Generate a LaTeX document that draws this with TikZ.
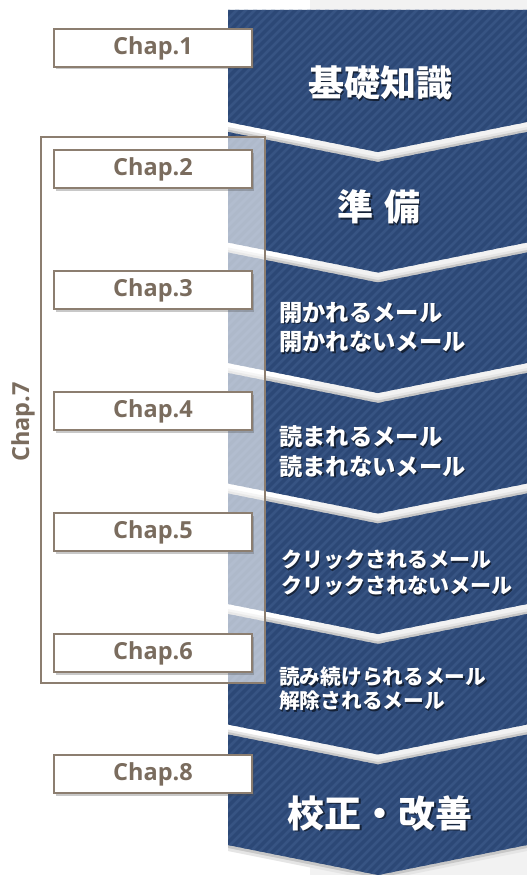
\documentclass[tikz,border=0pt]{standalone}
\usepackage{fontspec}
\setmainfont{Open Sans}
\newfontfamily\jp{Noto Sans CJK JP}
\usetikzlibrary{shadows}
\definecolor{bandblue}{RGB}{44,72,118}
\definecolor{stripeblue}{RGB}{55,84,131}
\definecolor{chapbrown}{RGB}{122,108,94}
\definecolor{chapborder}{RGB}{140,126,112}
\definecolor{rightgray}{RGB}{242,242,242}
\tikzset{
  stripe/.style={draw=stripeblue, line width=2.6pt},
  gapshadeA/.style={fill=black!10},
  gapshadeB/.style={fill=black!22},
  chapbox/.style={draw=chapborder, line width=1.5pt, fill=white,
    minimum width=198pt, minimum height=38pt, inner sep=0pt,
    text=chapbrown, font=\fontsize{23.5}{23.5}\selectfont\bfseries,
    drop shadow={shadow xshift=2pt, shadow yshift=-2.5pt, opacity=0.3, fill=black!70}},
  outerbox/.style={draw=chapborder, line width=1.2pt, fill=white, fill opacity=0.62,
    minimum width=224pt, minimum height=546pt, inner sep=0pt},
  chaplabel/.style={text=chapbrown, font=\fontsize{23.5}{23.5}\selectfont\bfseries, inner sep=0pt},
  jpw/.style={text=white, inner sep=0pt},
  jpsh/.style={text=black, opacity=0.55, inner sep=0pt},
  bigfont/.style={font=\jp\bfseries\fontsize{36}{40}\selectfont},
  midfont/.style={font=\jp\bfseries\fontsize{23.3}{29.5}\selectfont, align=left, anchor=west},
  smfont/.style={font=\jp\bfseries\fontsize{21}{26}\selectfont, align=left, anchor=west},
  xsfont/.style={font=\jp\bfseries\fontsize{20.7}{24}\selectfont, align=left, anchor=west},
  hugefont/.style={font=\jp\bfseries\fontsize{37}{40}\selectfont},
}
\begin{document}
\begin{tikzpicture}[x=1pt,y=-1pt]
\useasboundingbox (0,0) rectangle (527,875);
% background
\fill[white] (0,0) rectangle (527,875);
\fill[rightgray] (310,0) rectangle (527,875);
% band segments
\foreach \k in {0,...,6} {
  \pgfmathsetmacro\yb{122+120.5*\k}
  \pgfmathsetmacro\yt{\k==0 ? 10 : \yb-110.5}
  \pgfmathsetmacro\ytip{\k==0 ? 10 : \yb-80.5}
  \pgfmathsetmacro\ybtip{\yb+30}
  \ifnum\k>0
    \fill[gapshadeA] (228,\yt-5) -- (378,\ytip-5) -- (527,\yt-5) -- (527,\yb-5) -- (378,\ybtip-5) -- (228,\yb-5) -- cycle;
    \fill[gapshadeB] (228,\yt-2.5) -- (378,\ytip-2.5) -- (527,\yt-2.5) -- (527,\yb-2.5) -- (378,\ybtip-2.5) -- (228,\yb-2.5) -- cycle;
  \fi
  \ifnum\k=6
    \fill[gapshadeA] (228,\yt+6) -- (378,\ytip+6) -- (527,\yt+6) -- (527,\yb+6) -- (378,\ybtip+6) -- (228,\yb+6) -- cycle;
    \fill[gapshadeB] (228,\yt+3) -- (378,\ytip+3) -- (527,\yt+3) -- (527,\yb+3) -- (378,\ybtip+3) -- (228,\yb+3) -- cycle;
  \fi
  \begin{scope}
    \clip (228,\yt) -- (378,\ytip) -- (527,\yt) -- (527,\yb) -- (378,\ybtip) -- (228,\yb) -- cycle;
    \fill[bandblue] (220,\yt-5) rectangle (530,\ybtip+5);
    \foreach \c in {-700,-691,...,540} {
      \draw[stripe] (\c,875) -- ++(875,-875);
    }
  \end{scope}
}
% Chap.7 bracket box
\node[outerbox] (box7) at (153,410) {};
\node[chaplabel, rotate=90] (c7) at (23,422) {Chap.7};
% chapter labels
\node[chapbox] (c1) at (153,48) {Chap.1};
\node[chapbox] (c2) at (153,169) {Chap.2};
\node[chapbox] (c3) at (153,290) {Chap.3};
\node[chapbox] (c4) at (153,411) {Chap.4};
\node[chapbox] (c5) at (153,532) {Chap.5};
\node[chapbox] (c6) at (153,653) {Chap.6};
\node[chapbox] (c8) at (153,774) {Chap.8};
% band texts (shadow + white)
\node[jpsh, bigfont] (s1s) at (381.5,84.5) {基礎知識};
\node[jpw, bigfont] (s1) at (380,83) {基礎知識};
\node[jpsh, bigfont] (s2s) at (380.5,208.5) {準\hspace{11pt}備};
\node[jpw, bigfont] (s2) at (379,207) {準\hspace{11pt}備};
\node[jpsh, midfont] (s3s) at (280.5,329) {開かれるメール\\開かれないメール};
\node[jpw, midfont] (s3) at (279,327.5) {開かれるメール\\開かれないメール};
\node[jpsh, midfont] (s4s) at (280.5,453) {読まれるメール\\読まれないメール};
\node[jpw, midfont] (s4) at (279,451.5) {読まれるメール\\読まれないメール};
\node[jpsh, smfont] (s5s) at (282.5,574.5) {クリックされるメール\\クリックされないメール};
\node[jpw, smfont] (s5) at (281,573) {クリックされるメール\\クリックされないメール};
\node[jpsh, xsfont] (s6s) at (280.5,690.5) {読み続けられるメール\\解除されるメール};
\node[jpw, xsfont] (s6) at (279,689) {読み続けられるメール\\解除されるメール};
\node[jpsh, hugefont] (s7s) at (381.5,814.5) {校正・改善};
\node[jpw, hugefont] (s7) at (380,813) {校正・改善};
\end{tikzpicture}
\end{document}
